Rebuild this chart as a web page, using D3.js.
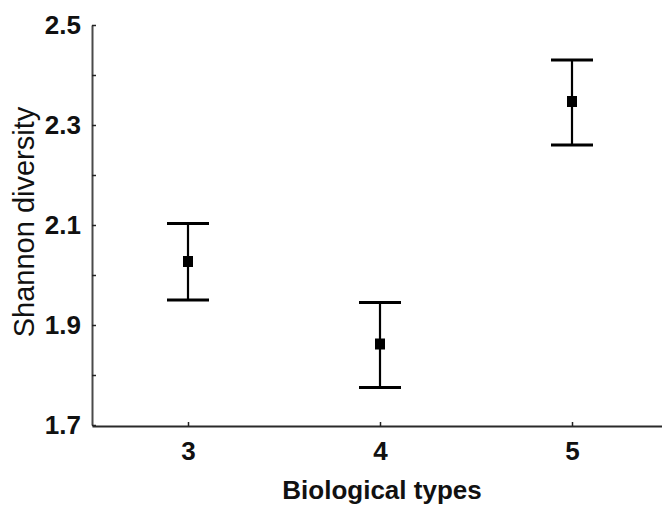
<!DOCTYPE html>
<html>
<head>
<meta charset="utf-8">
<script src="https://cdn.jsdelivr.net/npm/d3@7"></script>
<style>
  body { margin: 0; background: #fff; }
  svg text { font-family: "Liberation Sans", Arial, sans-serif; }
</style>
</head>
<body>
<div id="chart"></div>
<script>
const categories = [3, 4, 5]
const means = [2.027, 1.862, 2.347]
const upper = [2.103, 1.945, 2.430]
const lower = [1.950, 1.775, 2.260]
const yTickLabels = ["1.7", "1.9", "2.1", "2.3", "2.5"]
const yMinorTicks = [1.7, 1.8, 1.9, 2.0, 2.1, 2.2, 2.3, 2.4, 2.5]

const width = 662
const height = 509

const data = categories.map((c, i) => ({ cat: c, mean: means[i], hi: upper[i], lo: lower[i] }))

const svg = d3.select("div#chart").append("svg")
    .attr("width", width).attr("height", height)

const x = d3.scaleLinear().domain([2.5, 5.5]).range([92, 668])
const y = d3.scaleLinear().domain([1.7, 2.5]).range([425, 25])

// y axis
const yAxis = d3.axisLeft(y)
    .tickValues(yMinorTicks)
    .tickSizeInner(-4).tickSizeOuter(0)
    .tickPadding(11)
    .tickFormat(d => {
        const s = d3.format(".1f")(d)
        return yTickLabels.includes(s) ? s : ""
    })

const yAxisGroup = svg.append("g")
    .attr("transform", `translate(${x(2.5)}, 0)`)
    .call(yAxis)

// x axis
const xAxis = d3.axisBottom(x)
    .tickValues(categories)
    .tickSizeInner(-4).tickSizeOuter(0)
    .tickPadding(16)
    .tickFormat(d3.format("d"))

const xAxisGroup = svg.append("g")
    .attr("transform", `translate(0, ${y(1.7) + 1})`)
    .call(xAxis)

yAxisGroup.select(".domain").attr("stroke", "#4a4a4a").attr("stroke-width", 2)
xAxisGroup.select(".domain").attr("stroke", "#2a2a2a").attr("stroke-width", 2)
svg.selectAll(".tick line").attr("stroke", "#222").attr("stroke-width", 1.5)
svg.selectAll(".tick text")
    .attr("font-size", 26).attr("font-weight", "bold").attr("fill", "#111")
    .attr("font-family", "Liberation Sans, Arial, sans-serif")

// error bars
const bars = svg.append("g").attr("class", "errorBars")
    .selectAll("g").data(data).join("g")

bars.append("line")
    .attr("x1", d => x(d.cat)).attr("x2", d => x(d.cat))
    .attr("y1", d => y(d.hi)).attr("y2", d => y(d.lo))
    .attr("stroke", "#000").attr("stroke-width", 2.2)

bars.selectAll("line.cap")
    .data(d => [d.hi, d.lo].map(v => ({ cat: d.cat, v: v })))
    .join("line").attr("class", "cap")
    .attr("x1", d => x(d.cat) - 21).attr("x2", d => x(d.cat) + 21)
    .attr("y1", d => y(d.v)).attr("y2", d => y(d.v))
    .attr("stroke", "#000").attr("stroke-width", 3)

bars.append("rect")
    .attr("x", d => x(d.cat) - 5).attr("y", d => y(d.mean) - 5.5)
    .attr("width", 10).attr("height", 11)
    .attr("fill", "#000")

// titles
svg.append("text")
    .attr("x", 382).attr("y", 499)
    .attr("text-anchor", "middle")
    .attr("font-size", 26).attr("font-weight", "bold").attr("fill", "#111")
    .text("Biological types")

svg.append("text")
    .attr("transform", "translate(34, 222) rotate(-90)")
    .attr("text-anchor", "middle")
    .attr("font-size", 29).attr("fill", "#111")
    .text("Shannon diversity")
</script>
</body>
</html>
